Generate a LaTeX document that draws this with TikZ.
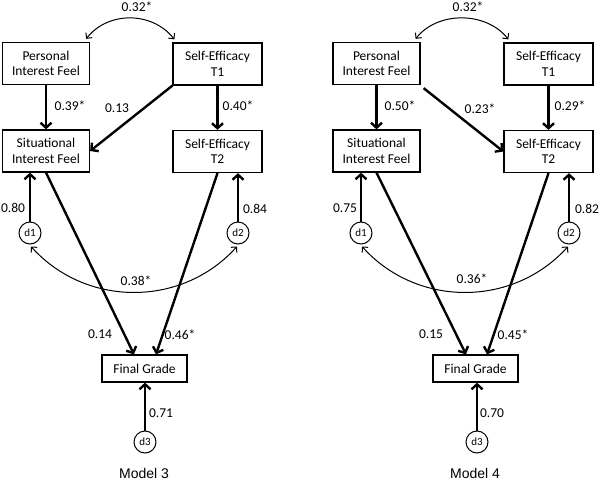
\documentclass[tikz,border=0pt]{standalone}
\usepackage{fontspec}
\setmainfont{Carlito}
\newfontfamily\arialf{Liberation Sans}
\usetikzlibrary{arrows.meta,calc}
\begin{document}
\begin{tikzpicture}[x=1pt,y=-1pt,
 box/.style={draw,line width=1.3pt,align=center,font=\fontsize{13.5}{15.5}\selectfont,inner sep=0pt,minimum height=42pt},
 dcirc/.style={draw,circle,line width=1pt,minimum size=22pt,inner sep=0pt,font=\fontsize{11}{12}\selectfont},
 patharr/.style={line width=2.4pt,-{Straight Barb[length=5pt,width=11pt]}},
 cov/.style={line width=1pt,{Straight Barb[length=4pt,width=8pt]}-{Straight Barb[length=4pt,width=8pt]}},
 lab/.style={font=\fontsize{13.5}{15}\selectfont,inner sep=0pt},
 mlab/.style={font=\arialf\fontsize{14}{15}\selectfont,inner sep=0pt},
]
\useasboundingbox (0,0) rectangle (600,480);
\fill[white] (0,0) rectangle (600,480);

% ---------------- Model 3 ----------------
\node[box,minimum width=87pt] (LPIF) at (46,63.5) {Personal\\Interest Feel};
\node[box,minimum width=89pt] (LSE1) at (217.5,64) {Self-Efficacy\\T1};
\node[box,minimum width=87pt] (LSIF) at (46,151) {Situational\\Interest Feel};
\node[box,minimum width=89pt] (LSE2) at (217.5,151.5) {Self-Efficacy\\T2};
\node[box,minimum width=85pt,minimum height=27pt] (LFG) at (144.5,368.5) {Final Grade};
\node[dcirc] (Ld1) at (30,233) {d1};
\node[dcirc] (Ld2) at (238,233) {d2};
\node[dcirc] (Ld3) at (145,442) {d3};
\node[mlab] (LM) at (144,473) {Model 3};

\draw[patharr] (LPIF.south) -- (LSIF.north);
\draw[patharr] (LSE1.south) -- (LSE2.north);
\draw[patharr] (LSE1.south west) -- (LSIF.east);
\draw[patharr] (Ld1.north) -- (Ld1 |- LSIF.south);
\draw[patharr] (Ld2.north) -- (Ld2 |- LSE2.south);
\draw[patharr] (Ld3.north) -- (Ld3 |- LFG.south);
\draw[patharr] (LSIF.south) -- ($(LFG.north)+(-10.5,0)$);
\draw[patharr] (LSE2.south) -- ($(LFG.north)+(11.5,0)$);
\draw[cov] ($(LPIF.north east)+(-4,-3)$) .. controls +(22,-28) and +(-22,-28) .. ($(LSE1.north west)+(2,-3)$);
\draw[cov] ($(Ld1.south)+(1,2)$) .. controls +(55,61) and +(-55,61) .. ($(Ld2.south)+(-1,2)$);

\node[lab] (Ll1) at (137,7) {0.32*};
\node[lab] (Ll2) at (70,106) {0.39*};
\node[lab] (Ll3) at (117,108) {0.13};
\node[lab] (Ll4) at (238,106) {0.40*};
\node[lab] (Ll5) at (13,208) {0.80};
\node[lab] (Ll6) at (255,209) {0.84};
\node[lab] (Ll7) at (136,281) {0.38*};
\node[lab] (Ll8) at (100,334) {0.14};
\node[lab] (Ll9) at (180,335) {0.46*};
\node[lab] (Ll10) at (161,413) {0.71};

% ---------------- Model 4 ----------------
\node[box,minimum width=87pt] (RPIF) at (376.5,63.5) {Personal\\Interest Feel};
\node[box,minimum width=89pt] (RSE1) at (548.5,64) {Self-Efficacy\\T1};
\node[box,minimum width=87pt] (RSIF) at (376.5,151) {Situational\\Interest Feel};
\node[box,minimum width=89pt] (RSE2) at (548.5,151.5) {Self-Efficacy\\T2};
\node[box,minimum width=85pt,minimum height=27pt] (RFG) at (475.5,368.5) {Final Grade};
\node[dcirc] (Rd1) at (361,233) {d1};
\node[dcirc] (Rd2) at (569,233) {d2};
\node[dcirc] (Rd3) at (477,442) {d3};
\node[mlab] (RM) at (475,473) {Model 4};

\draw[patharr] (RPIF.south) -- (RSIF.north);
\draw[patharr] (RSE1.south) -- (RSE2.north);
\draw[patharr] ($(RPIF.south east)+(3,3)$) -- (RSE2.west);
\draw[patharr] (Rd1.north) -- (Rd1 |- RSIF.south);
\draw[patharr] (Rd2.north) -- (Rd2 |- RSE2.south);
\draw[patharr] (Rd3.north) -- (Rd3 |- RFG.south);
\draw[patharr] (RSIF.south) -- ($(RFG.north)+(-9.5,0)$);
\draw[patharr] (RSE2.south) -- ($(RFG.north)+(11.5,0)$);
\draw[cov] ($(RPIF.north east)+(-5,-3)$) .. controls +(22,-28) and +(-22,-28) .. ($(RSE1.north west)+(5,-3)$);
\draw[cov] ($(Rd1.south)+(1,2)$) .. controls +(55,61) and +(-55,61) .. ($(Rd2.south)+(-1,2)$);

\node[lab] (Rl1) at (468,7) {0.32*};
\node[lab] (Rl2) at (400,106) {0.50*};
\node[lab] (Rl3) at (480,109) {0.23*};
\node[lab] (Rl4) at (570,106) {0.29*};
\node[lab] (Rl5) at (345,208) {0.75};
\node[lab] (Rl6) at (587,209) {0.82};
\node[lab] (Rl7) at (472,279) {0.36*};
\node[lab] (Rl8) at (431,334) {0.15};
\node[lab] (Rl9) at (513,335) {0.45*};
\node[lab] (Rl10) at (492,413) {0.70};
\end{tikzpicture}
\end{document}
